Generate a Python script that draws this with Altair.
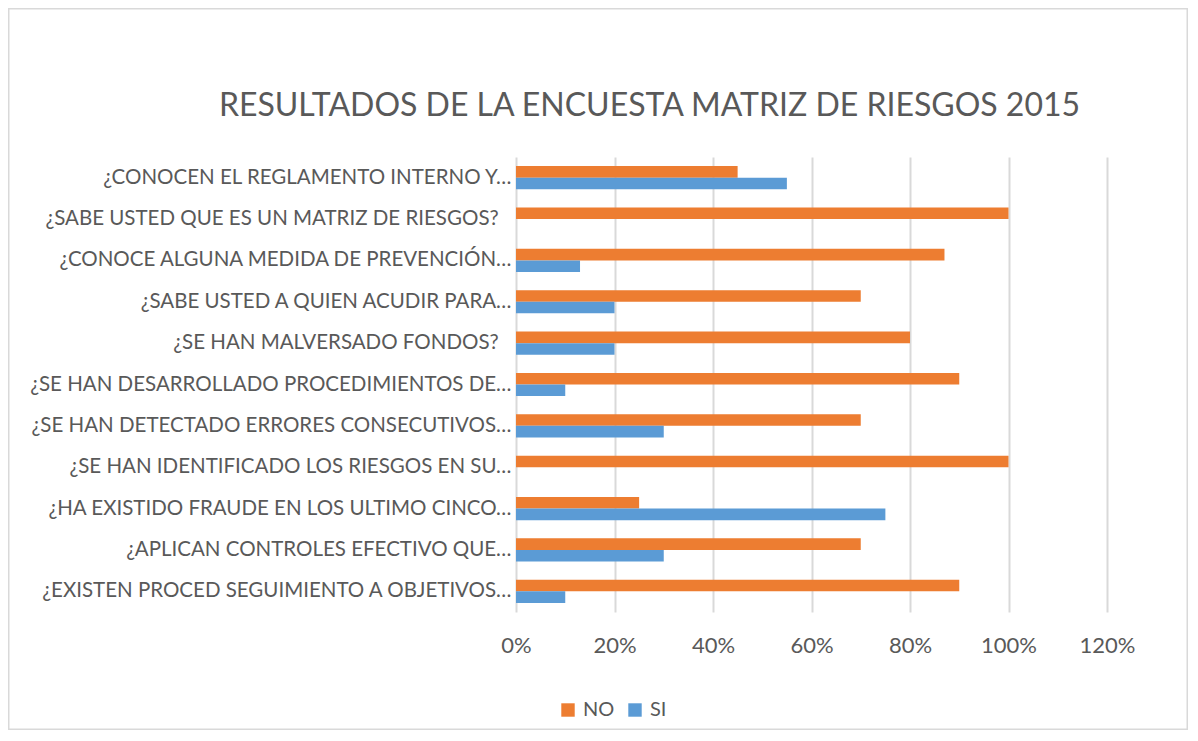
import altair as alt
import pandas as pd

questions = [
    "¿CONOCEN EL REGLAMENTO INTERNO Y…",
    "¿SABE USTED QUE ES UN MATRIZ DE RIESGOS?\u2002\u2009\u200b",
    "¿CONOCE ALGUNA MEDIDA DE PREVENCIÓN…",
    "¿SABE USTED A QUIEN ACUDIR PARA…",
    "¿SE HAN MALVERSADO FONDOS?\u2002\u2009\u200b",
    "¿SE HAN DESARROLLADO PROCEDIMIENTOS DE…",
    "¿SE HAN DETECTADO ERRORES CONSECUTIVOS…",
    "¿SE HAN IDENTIFICADO LOS RIESGOS EN SU…",
    "¿HA EXISTIDO FRAUDE EN LOS ULTIMO CINCO…",
    "¿APLICAN CONTROLES EFECTIVO QUE…",
    "¿EXISTEN PROCED SEGUIMIENTO A OBJETIVOS…",
]
no_vals = [0.45, 1.00, 0.87, 0.70, 0.80, 0.90, 0.70, 1.00, 0.25, 0.70, 0.90]
si_vals = [0.55, 0.00, 0.13, 0.20, 0.20, 0.10, 0.30, 0.00, 0.75, 0.30, 0.10]
series = ["NO", "SI"]
colors = ["#ED7D31", "#5B9BD5"]
x_ticks = [0, 0.2, 0.4, 0.6, 0.8, 1.0, 1.2]

rows = []
for q, n, s in zip(questions, no_vals, si_vals):
    rows.append({"pregunta": q, "serie": "NO", "valor": n})
    rows.append({"pregunta": q, "serie": "SI", "valor": s})
df = pd.DataFrame(rows)

FONT = "Lato"
TXT = "#595959"
W, H = 591, 455
PAD_L, PAD_T, PAD_R, PAD_B = 508, 149, 81, 118

bars = alt.Chart(df).mark_bar().encode(
    x=alt.X("valor:Q",
            scale=alt.Scale(domain=[0, 1.2], nice=False),
            axis=alt.Axis(values=x_ticks, format=".0%", title=None,
                          grid=True, gridColor="#D9D9D9", gridWidth=2,
                          ticks=False, domain=False, labelPadding=23,
                          labelFlush=False, labelFontSize=22)),
    y=alt.Y("pregunta:N", sort=questions,
            scale=alt.Scale(paddingInner=0.44, paddingOuter=0.22),
            axis=alt.Axis(title=None, ticks=False, domain=False,
                          labelPadding=5, labelFontSize=20.5, labelLimit=520)),
    yOffset=alt.YOffset("serie:N", sort=series),
    color=alt.Color("serie:N", sort=series,
                    scale=alt.Scale(domain=series, range=colors),
                    legend=alt.Legend(title=None, orient="none",
                                      direction="horizontal",
                                      legendX=42, legendY=543,
                                      symbolType="square", symbolSize=180,
                                      symbolStrokeWidth=0,
                                      labelFontSize=20, labelColor=TXT,
                                      labelFont=FONT, columnPadding=10,
                                      labelOffset=5)),
)

border = alt.Chart(alt.Data(values=[{}])).mark_rect(
    filled=False, stroke="#D9D9D9", strokeWidth=1.5
).encode(
    x=alt.value(-PAD_L + 0.75), x2=alt.value(W + PAD_R - 0.75),
    y=alt.value(-PAD_T + 0.75), y2=alt.value(H + PAD_B - 0.75),
)

chart = alt.layer(bars, border).properties(
    width=W, height=H,
    padding={"left": PAD_L, "top": PAD_T, "right": PAD_R, "bottom": PAD_B},
    autosize=alt.AutoSizeParams(type="none"),
    title=alt.TitleParams("RESULTADOS DE LA ENCUESTA MATRIZ DE RIESGOS 2015",
                          fontSize=32, fontWeight="normal", color=TXT,
                          font=FONT, dx=-162, baseline="middle",
                          offset=-130),
).configure_view(stroke=None).configure_axis(
    labelColor=TXT, labelFont=FONT
)

chart.save("out.html", embed_options={"renderer": "svg", "actions": False})
